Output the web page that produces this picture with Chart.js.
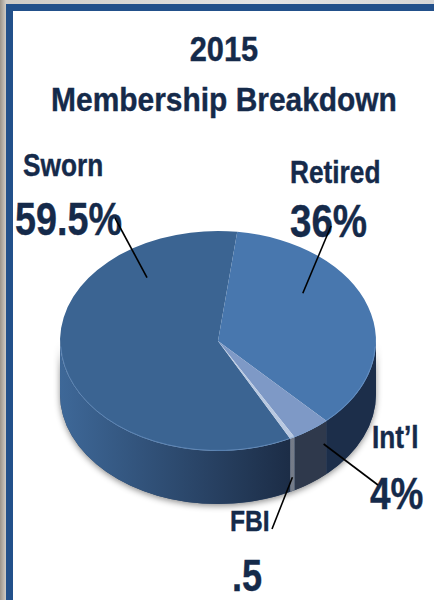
<!DOCTYPE html>
<html lang="en">
<head>
<meta charset="UTF-8">
<title>2015 Membership Breakdown</title>
<script src="https://cdn.jsdelivr.net/npm/chart.js"></script>
<style>
  body {
    margin: 0;
    width: 434px;
    height: 600px;
    overflow: hidden;
    position: relative;
    background: linear-gradient(to right, #9c948a 0px, #cfcbc5 6px, #e4e4e4 60%, #d6d6d6 100%);
    font-family: "Liberation Sans", Arial, sans-serif;
  }
  /* white slide panel with the blue frame on left + top */
  .panel {
    position: absolute;
    left: 6px;
    top: 4px;
    width: 440px;
    height: 610px;
    background: #fff;
    border-left: 7px solid #22508a;
    border-top: 7px solid #22508a;
  }
  canvas { position: absolute; left: 0; top: 0; }
  .txt {
    position: absolute;
    color: #152a4a;
    font-weight: bold;
    line-height: 1;
    white-space: nowrap;
    -webkit-text-stroke: 0.4px #152a4a;
    transform: scaleX(0.82);
    transform-origin: 0 0;
  }
  .title {
    left: 0;
    width: 448px;
    text-align: center;
    transform: scaleX(0.88);
    transform-origin: 224px 0;
  }
</style>
</head>
<body>
<div class="panel"></div>
<div class="txt title" style="top:31px;font-size:35px">2015</div>
<div class="txt title" style="top:82px;font-size:34px">Membership Breakdown</div>
<div id="labels"></div>
<canvas id="pie" width="434" height="600"></canvas>

<script>
// data
const categories = ['Sworn', 'Retired', 'Int\u2019l', 'FBI'];
const shares = [59.5, 36, 4, 0.5];
const shareText = ['59.5%', '36%', '4%', '.5'];

// look
const topColors = ['#3b6492', '#4877ae', '#7e99c6', '#b9c9e1'];
const sideColors = [['#3e6898', '#1b2b44'], ['#22385a', '#1c2e4a'], ['#3a4458', '#2f394c'], ['#8a909c', '#747b88']];
const TILT = 110 / 158;   // vertical squash of the disc
const DEPTH = 53;         // thickness of the disc in px
const START = 152.8;      // degrees clockwise from 12 o'clock where Sworn begins

// label placement: name/value boxes + where the leader line ends
const labelPos = [
  { nx: 23, ny: 149, nfs: 32, vx: 15, vy: 196, vfs: 46, to: [115, 218], t: 0.79, rf: 0.73 },
  { nx: 290, ny: 156, nfs: 32, vx: 290, vy: 197, vfs: 47, to: [331, 226], t: 0.34, rf: 0.69 },
  { nx: 372, ny: 421, nfs: 32, vx: 370, vy: 471, vfs: 45, to: [378, 485], t: 0.1, side: 0.4 },
  { nx: 230, ny: 506, nfs: 30, vx: 232, vy: 554, vfs: 44, to: [272, 529], t: 0.5, side: 0.74 }
];

const holder = document.getElementById('labels');
categories.forEach((name, i) => {
  const p = labelPos[i];
  holder.insertAdjacentHTML('beforeend',
    `<div class="txt" style="left:${p.nx}px;top:${p.ny}px;font-size:${p.nfs}px">${name}</div>` +
    `<div class="txt" style="left:${p.vx}px;top:${p.vy}px;font-size:${p.vfs}px">${shareText[i]}</div>`);
});

// parts of [s,e] that face the viewer (lower half of the ellipse)
function frontSpans(s, e) {
  const TAU = Math.PI * 2;
  const a = ((s % TAU) + TAU) % TAU;
  const b = a + (e - s);
  const out = [];
  [[0, Math.PI], [TAU, TAU + Math.PI]].forEach(([lo, hi]) => {
    const x0 = Math.max(a, lo), x1 = Math.min(b, hi);
    if (x1 > x0) out.push([x0, x1]);
  });
  return out;
}

const pie3d = {
  id: 'pie3d',
  beforeDatasetsDraw(chart) {
    const ctx = chart.ctx;
    const arcs = chart.getDatasetMeta(0).data;
    const { x: cx, y: cy, outerRadius: r } = arcs[0];
    const ry = r * TILT;

    // soft shadow under the disc
    ctx.save();
    ctx.shadowColor = 'rgba(0,0,0,0.45)';
    ctx.shadowBlur = 6;
    ctx.shadowOffsetY = 2;
    ctx.beginPath();
    ctx.ellipse(cx, cy, r, ry, 0, 0, Math.PI);
    ctx.ellipse(cx, cy + DEPTH, r, ry, 0, Math.PI, 0, true);
    ctx.closePath();
    ctx.fillStyle = '#2a4468';
    ctx.fill();
    ctx.restore();

    // side walls
    arcs.forEach((arc, i) => {
      frontSpans(arc.startAngle, arc.endAngle).forEach(([a, b]) => {
        const g = ctx.createLinearGradient(cx - r, 0, cx + r * 0.5, 0);
        g.addColorStop(0, sideColors[i][0]);
        g.addColorStop(1, sideColors[i][1]);
        ctx.beginPath();
        ctx.ellipse(cx, cy, r, ry, 0, a, b);
        ctx.ellipse(cx, cy + DEPTH, r, ry, 0, b, a, true);
        ctx.closePath();
        ctx.fillStyle = g;
        ctx.fill();
      });
    });

    // squash the library's own pie into the top face
    ctx.save();
    ctx.translate(cx, cy);
    ctx.scale(1, TILT);
    ctx.translate(-cx, -cy);
  },
  afterDatasetsDraw(chart) {
    const ctx = chart.ctx;
    ctx.restore();
    const arcs = chart.getDatasetMeta(0).data;
    const { x: cx, y: cy, outerRadius: r } = arcs[0];
    const ry = r * TILT;

    // light rim where top meets side
    ctx.beginPath();
    ctx.ellipse(cx, cy, r - 0.5, ry - 0.5, 0, 0.05, Math.PI - 0.05);
    ctx.strokeStyle = 'rgba(120,160,210,0.55)';
    ctx.lineWidth = 1;
    ctx.stroke();

    // leader lines
    ctx.strokeStyle = '#000';
    ctx.lineWidth = 1.6;
    arcs.forEach((arc, i) => {
      const p = labelPos[i];
      const ang = arc.startAngle + p.t * (arc.endAngle - arc.startAngle);
      let x, y;
      if (p.side !== undefined) {
        x = cx + r * Math.cos(ang);
        y = cy + ry * Math.sin(ang) + p.side * DEPTH;
      } else {
        x = cx + p.rf * r * Math.cos(ang);
        y = cy + p.rf * ry * Math.sin(ang);
      }
      ctx.beginPath();
      ctx.moveTo(x, y);
      ctx.lineTo(p.to[0], p.to[1]);
      ctx.stroke();
    });
  }
};

new Chart(document.getElementById('pie'), {
  type: 'pie',
  data: {
    labels: categories,
    datasets: [{
      data: shares,
      backgroundColor: topColors,
      borderWidth: 0,
      hoverOffset: 0,
      offset: 0
    }]
  },
  options: {
    responsive: false,
    animation: false,
    events: [],
    rotation: START,
    layout: { padding: { left: 60, right: 58, top: 183, bottom: 101 } },
    plugins: {
      legend: { display: false },
      tooltip: { enabled: false }
    }
  },
  plugins: [pie3d]
});
</script>
</body>
</html>
